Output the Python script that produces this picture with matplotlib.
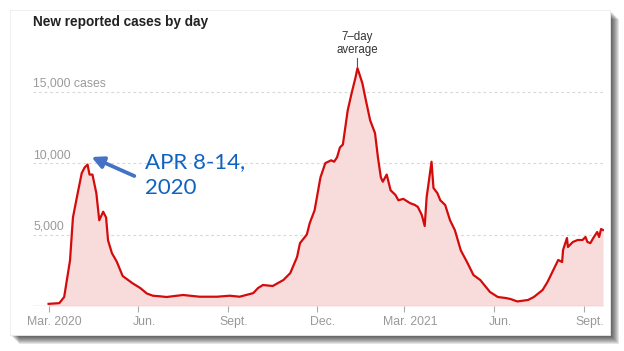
import matplotlib
matplotlib.use('Agg')
import matplotlib.pyplot as plt
import matplotlib.transforms as mtransforms
from matplotlib.patches import Rectangle
import pandas as pd

# ---------------- data ----------------
dates = ['2020-03-01', '2020-03-12', '2020-03-17', '2020-03-23', '2020-03-26', '2020-03-30',
         '2020-04-04', '2020-04-07', '2020-04-10', '2020-04-12', '2020-04-15', '2020-04-19',
         '2020-04-22', '2020-04-26', '2020-04-29', '2020-05-01', '2020-05-05', '2020-05-10',
         '2020-05-16', '2020-05-26', '2020-06-03', '2020-06-10', '2020-06-16', '2020-06-23',
         '2020-06-30', '2020-07-17',
         '2020-08-03', '2020-08-21', '2020-09-03', '2020-09-13', '2020-09-27', '2020-10-02',
         '2020-10-07',
         '2020-10-17', '2020-10-28', '2020-11-04', '2020-11-11', '2020-11-14', '2020-11-21',
         '2020-11-24', '2020-11-29', '2020-12-05', '2020-12-10', '2020-12-16', '2020-12-19',
         '2020-12-22',
         '2020-12-25', '2020-12-28', '2021-01-02', '2021-01-06', '2021-01-10', '2021-01-12',
         '2021-01-17', '2021-01-20', '2021-01-25', '2021-01-30', '2021-02-02', '2021-02-05',
         '2021-02-07', '2021-02-11', '2021-02-15', '2021-02-20', '2021-02-23', '2021-02-28',
         '2021-03-07', '2021-03-12', '2021-03-15', '2021-03-19', '2021-03-22', '2021-03-24',
         '2021-03-26', '2021-03-29', '2021-03-31', '2021-04-04', '2021-04-07', '2021-04-12',
         '2021-04-17', '2021-04-22', '2021-04-28', '2021-05-05', '2021-05-11', '2021-05-18',
         '2021-05-28', '2021-06-05', '2021-06-13', '2021-06-18', '2021-06-25', '2021-07-06',
         '2021-07-12', '2021-07-21', '2021-07-26', '2021-08-01', '2021-08-06', '2021-08-10',
         '2021-08-11', '2021-08-15', '2021-08-16', '2021-08-21', '2021-08-26', '2021-08-31',
         '2021-09-03', '2021-09-05', '2021-09-08', '2021-09-11', '2021-09-15', '2021-09-17',
         '2021-09-19', '2021-09-21']
cases = [150, 200, 630, 3200, 6200, 7600,
         9300, 9700, 9900, 9200, 9200, 7900,
         6000, 6600, 6200, 4600, 3700, 3100,
         2100, 1600, 1260, 870, 720, 680,
         630, 770,
         650, 650, 720, 650, 900, 1260,
         1470,
         1400, 1820, 2300, 3430, 4400, 5000,
         5800, 6700, 9000, 10000, 10200, 10100,
         10400,
         11100, 11300, 13700, 14900, 16000, 16650,
         15600, 14600, 13000, 12100, 10400, 9000,
         8700, 9200, 8100, 7770, 7400, 7500,
         7200, 7070, 6930, 6370, 5600, 7630,
         8600, 10100, 8260, 7900, 7400, 7070,
         6000, 5300, 3900, 3000, 2170, 1820,
         980, 630, 560, 490, 320, 420,
         630, 1120, 1680, 2520, 3220, 3080,
         3920, 4760, 4130, 4480, 4620, 4620,
         4830, 4480, 4400, 4760, 5180, 4830,
         5390, 5320]

y_ticks = [5000, 10000, 15000]
y_tick_labels = ['5,000', '10,000', '15,000 cases']
x_tick_dates = ['2020-03-01', '2020-06-01', '2020-09-01', '2020-12-01',
                '2021-03-01', '2021-06-01', '2021-09-01']
x_tick_labels = ['Mar. 2020', 'Jun.', 'Sept.', 'Dec.', 'Mar. 2021', 'Jun.', 'Sept.']

title = 'New reported cases by day'
peak_label = '7\u2013day\naverage'
note_text = 'APR 8-14,\n2020'
note_arrow_head = ('2020-04-14', 10430)
note_arrow_tail = ('2020-05-28', 9100)
note_text_pos = ('2020-06-08', 10800)

# ---------------- figure ----------------
W, H = 624, 351
fig = plt.figure(figsize=(W / 100, H / 100), dpi=100)
fig.patch.set_facecolor('white')

def fx(px):
    return px / W

def fy(py):
    return (H - py) / H

# card shadow
for i in range(9, 0, -1):
    fig.patches.append(Rectangle((fx(10 + i), fy(335 + i)), fx(600), 325 / H,
                                 transform=fig.transFigure, facecolor='#000000',
                                 alpha=0.1, edgecolor='none', zorder=0))
fig.patches.append(Rectangle((fx(10), fy(335)), fx(600), 325 / H,
                             transform=fig.transFigure, facecolor='white',
                             edgecolor='#ececec', linewidth=0.6, zorder=1))

ax = fig.add_axes([fx(33), fy(306), fx(604) - fx(33), fy(56) - fy(306)])
ax.set_zorder(5)
ax.set_facecolor('none')

d = pd.to_datetime(dates)
ax.fill_between(d, cases, 0, color='#f8dcdc', linewidth=0, zorder=1)
ax.plot(d, cases, color='#d40b0b', linewidth=1.6, zorder=3, solid_joinstyle='round')

ax.set_xlim(pd.Timestamp('2020-02-14'), pd.Timestamp('2021-09-22'))
ax.set_ylim(0, 17500)

for s in ax.spines.values():
    s.set_visible(False)

# gridlines and baseline
for v in y_ticks:
    ax.axhline(v, color='#d8d8d8', linewidth=0.8, linestyle=(0, (2.5, 2.5)), zorder=0)
ax.axhline(0, color='#cccccc', linewidth=1.0, zorder=2)

ax.set_yticks([])
trans = mtransforms.blended_transform_factory(ax.transAxes, ax.transData)
for v, lab in zip(y_ticks, y_tick_labels):
    ax.text(0, v + 120, lab, transform=trans, ha='left', va='bottom',
            fontsize=8.8, color='#9a9a9a', family='Liberation Sans')

ax.set_xticks(pd.to_datetime(x_tick_dates))
ax.set_xticklabels(x_tick_labels, family='Liberation Sans', fontsize=8.8, color='#999999')
ax.tick_params(axis='x', length=4, width=0.8, color='#aaaaaa', pad=3)
shift = mtransforms.ScaledTranslation(6 / 100, 0, fig.dpi_scale_trans)
for lab in ax.get_xticklabels():
    lab.set_transform(lab.get_transform() + shift)

# title
fig.text(fx(33), fy(22), title, ha='left', va='center', fontsize=9.8,
         fontweight='bold', color='#222222', family='Liberation Sans', zorder=6)

# peak annotation
peak_i = cases.index(max(cases))
ax.annotate(peak_label, xy=(d[peak_i], cases[peak_i]), xytext=(0, 9),
            textcoords='offset points', ha='center', va='bottom',
            fontsize=8.3, color='#333333', family='Liberation Sans', linespacing=1.05,
            arrowprops=dict(arrowstyle='-', color='#555555', lw=0.8,
                            shrinkA=0, shrinkB=1))

# blue note
ax.annotate('', xy=(pd.Timestamp(note_arrow_head[0]), note_arrow_head[1]),
            xytext=(pd.Timestamp(note_arrow_tail[0]), note_arrow_tail[1]),
            arrowprops=dict(arrowstyle='-|>,head_width=0.35,head_length=0.7',
                            color='#4472c4', lw=2.7, shrinkA=0, shrinkB=0),
            zorder=5)
ax.text(pd.Timestamp(note_text_pos[0]), note_text_pos[1], note_text,
        ha='left', va='top', fontsize=16, color='#0f62c0', family='Lato',
        linespacing=1.4, zorder=5)

fig.savefig('out.png', dpi=100)
